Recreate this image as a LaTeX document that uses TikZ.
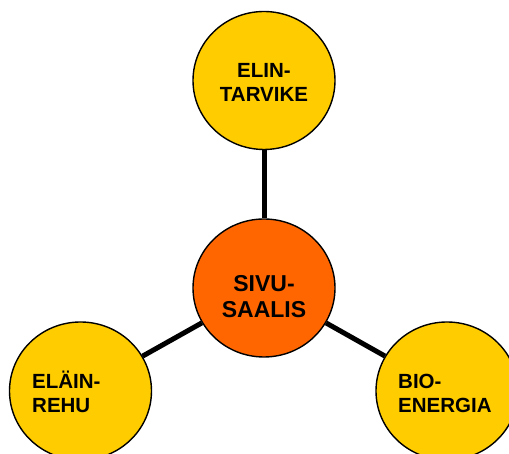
\documentclass[tikz,border=0pt]{standalone}
\usepackage{fontspec}
\setmainfont{Liberation Sans}
\usetikzlibrary{shapes.geometric}
\definecolor{keltainen}{HTML}{FFCC00}
\definecolor{oranssi}{HTML}{FF6600}
\begin{document}
\begin{tikzpicture}[x=1pt,y=1pt]
\tikzset{pallo/.style={shape=ellipse,draw=black,line width=1.4pt,fill=keltainen,minimum width=142pt,minimum height=138pt,inner sep=0pt}}
\tikzset{teksti/.style={font=\fontsize{20.5}{24.5}\selectfont\bfseries,inner sep=0pt}}
\useasboundingbox (0,0) rectangle (509,454);
\clip (0,0) rectangle (509,454);
\node[pallo] (elin) at (264,373.5) {};
\node[pallo,fill=oranssi] (sivu) at (264,166) {};
\node[pallo] (elain) at (80.5,63) {};
\node[pallo] (bio) at (447,63) {};
%\node[pallo] (bio) at (447,63) {BIO-\\ENERGIA};
\draw[line width=5pt] (elin) -- (sivu);
\draw[line width=5pt] (sivu) -- (elain);
\draw[line width=5pt] (sivu) -- (bio);
% base = baseline of the last line
\node[teksti,align=center,anchor=base] (elinteksti) at (264,352) {ELIN-\\TARVIKE};
\node[teksti,font=\fontsize{23}{26}\selectfont\bfseries,align=center,anchor=base] (sivuteksti) at (264,136) {SIVU-\\SAALIS};
\node[teksti,align=left,anchor=base west] (elainteksti) at (32,41) {ELÄIN-\\REHU};
\node[teksti,align=left,anchor=base west] (bioteksti) at (398,41) {BIO-\\ENERGIA};
\end{tikzpicture}
\end{document}
